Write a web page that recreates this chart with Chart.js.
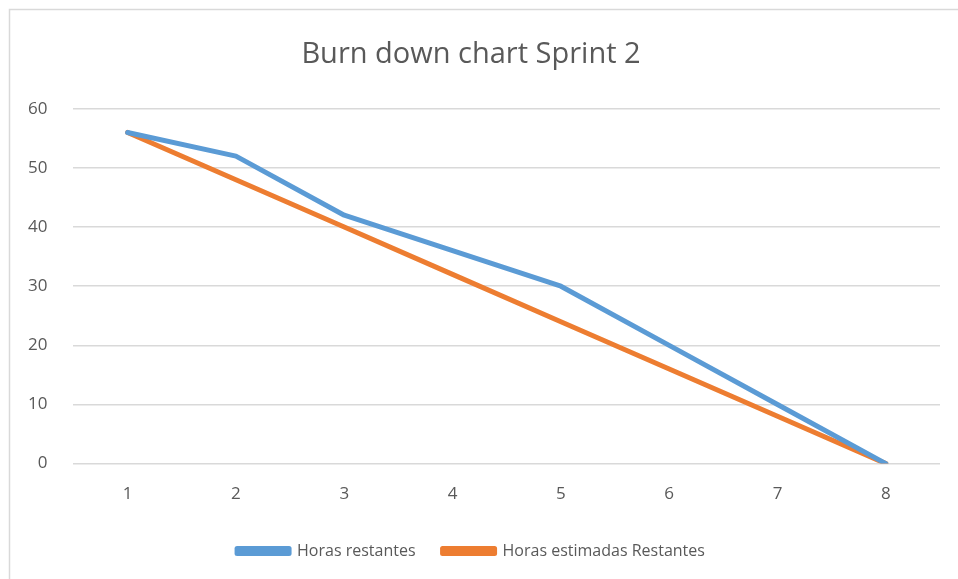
<!DOCTYPE html>
<html>
<head>
<meta charset="utf-8">
<script src="https://cdn.jsdelivr.net/npm/chart.js@4"></script>
<style>
    html, body { margin: 0; padding: 0; background: #fff; }
    canvas { display: block; }
</style>
</head>
<body>
<canvas id="burnChart" width="958" height="579"></canvas>
<script>
const dias = ['1', '2', '3', '4', '5', '6', '7', '8'];
const horasRestantes = [56, 52, 42, 36, 30, 20, 10, 0];
const horasEstimadas = [56, 48, 40, 32, 24, 16, 8, 0];

const cinza = '#595959';
const fonte = 'Open Sans';

// moldura clara em volta do gráfico
const moldura = {
    id: 'moldura',
    beforeDraw(chart) {
        const ctx = chart.ctx;
        ctx.save();
        ctx.fillStyle = '#fff';
        ctx.fillRect(0, 0, chart.width, chart.height);
        ctx.strokeStyle = '#d9d9d9';
        ctx.lineWidth = 1.5;
        ctx.strokeRect(9.5, 9.5, 1200, 1200);
        ctx.restore();
    }
};

const burn = document.getElementById('burnChart');

new Chart(burn, {
    type: 'line',
    data: {
        labels: dias,
        datasets: [{
            label: 'Horas restantes',
            data: horasRestantes,
            borderColor: '#5B9BD5',
            backgroundColor: '#5B9BD5',
            borderWidth: 5,
            borderCapStyle: 'round',
            borderJoinStyle: 'round',
            pointRadius: 0,
            tension: 0,
        }, {
            label: 'Horas estimadas Restantes',
            data: horasEstimadas,
            borderColor: '#ED7D31',
            backgroundColor: '#ED7D31',
            borderWidth: 5,
            borderCapStyle: 'round',
            borderJoinStyle: 'round',
            pointRadius: 0,
            tension: 0,
        }]
    },
    options: {
        responsive: false,
        animation: false,
        layout: {
            padding: { left: 2, right: 18, top: 22, bottom: 10 }
        },
        plugins: {
            title: {
                display: true,
                text: 'Burn down chart Sprint 2',
                color: cinza,
                font: { family: fonte, size: 29, weight: 'normal' },
                padding: { top: 15, bottom: 37 }
            },
            legend: {
                position: 'bottom',
                labels: {
                    color: cinza,
                    font: { family: fonte, size: 16 },
                    boxWidth: 52,
                    boxHeight: 5,
                    padding: 27,
                },
            },
            tooltip: { enabled: false }
        },
        scales: {
            y: {
                min: 0,
                max: 60,
                ticks: {
                    stepSize: 10,
                    color: cinza,
                    padding: 26,
                    font: { family: fonte, size: 17 },
                },
                grid: {
                    color: '#d9d9d9',
                    lineWidth: 1.5,
                    drawTicks: false,
                },
                border: { display: false },
            },
            x: {
                offset: true,
                ticks: {
                    color: cinza,
                    padding: 12,
                    font: { family: fonte, size: 17 },
                },
                grid: {
                    display: false,
                },
                border: { display: false },
            }
        }
    },
    plugins: [moldura]
});
</script>
</body>
</html>
